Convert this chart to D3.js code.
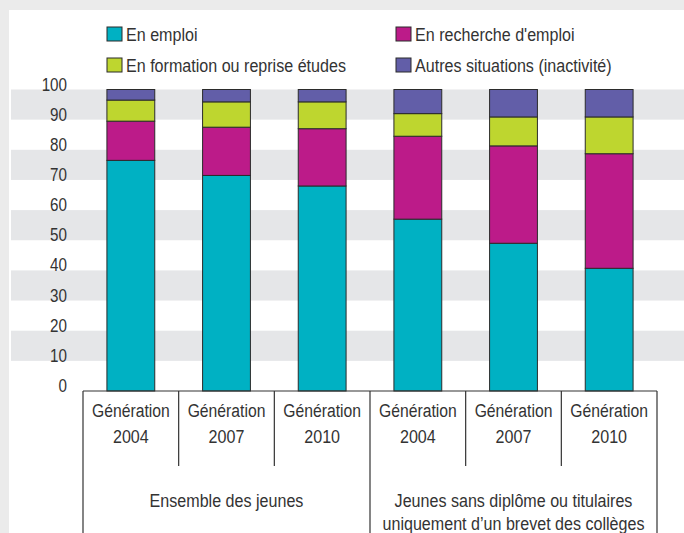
<!DOCTYPE html>
<html>
<head>
<meta charset="utf-8">
<script src="https://cdn.jsdelivr.net/npm/d3@7"></script>
<style>
  body { margin: 0; background: #ebebeb; }
  svg { display: block; font-family: "Liberation Sans", Arial, sans-serif; }
</style>
</head>
<body>
<script>
// données
const generations = ["2004", "2007", "2010", "2004", "2007", "2010"];
const groups = [
  ["Ensemble des jeunes"],
  ["Jeunes sans diplôme ou titulaires", "uniquement d’un brevet des collèges"]
];
const seriesNames = ["En emploi", "En recherche d'emploi", "En formation ou reprise études", "Autres situations (inactivité)"];
const emploi = [76.5, 71.5, 68, 57, 49, 40.7];
const recherche = [13, 16, 19, 27.5, 32.3, 38];
const formation = [7, 8.4, 8.9, 7.5, 9.6, 12.2];
const autres = [3.5, 4.1, 4.1, 8, 9.1, 9.1];
const yTicks = [0, 10, 20, 30, 40, 50, 60, 70, 80, 90, 100];

const colors = ["#00b1c3", "#bc1b89", "#bed62f", "#625ea8"];

const width = 684, height = 533;

const svg = d3.select("body").append("svg")
  .attr("width", width)
  .attr("height", height);

// texte condensé (police étroite simulée)
const addText = (sel, tx, ty, str, size, anchor, sx = 0.87) =>
  sel.append("text")
    .attr("transform", `translate(${tx},${ty}) scale(${sx},1)`)
    .attr("text-anchor", anchor)
    .attr("font-size", size)
    .attr("fill", "#333")
    .text(str);

// panneau blanc
svg.append("rect")
  .attr("x", 9).attr("y", 10)
  .attr("width", width - 9).attr("height", height - 10)
  .attr("fill", "#fff");

const rows = generations.map((g, i) => ({
  id: i, gen: g,
  e: emploi[i], r: recherche[i], f: formation[i], a: autres[i]
}));

const x = d3.scaleBand()
  .domain(rows.map(d => d.id))
  .range([83, 657])
  .paddingInner(0.5)
  .paddingOuter(0.25);

const y = d3.scaleLinear().domain([0, 100]).range([391, 89.5]);

// bandes grises
const bands = [90, 70, 50, 30, 10];
svg.append("g").selectAll("rect")
  .data(bands)
  .enter().append("rect")
  .attr("x", 11)
  .attr("y", d => y(d + 10))
  .attr("width", width - 11)
  .attr("height", d => y(d) - y(d + 10))
  .attr("fill", "#e5e6e8");

// axe y (étiquettes seulement)
const yAxis = svg.append("g");
yTicks.forEach(t => addText(yAxis, 67, y(t) + 1, t, 19, "end", 0.8));

// barres empilées
const stack = d3.stack().keys(["e", "r", "f", "a"]);
const series = stack(rows);

svg.append("g").selectAll("g")
  .data(series)
  .enter().append("g")
  .attr("fill", (d, i) => colors[i])
  .selectAll("rect")
  .data(d => d)
  .enter().append("rect")
  .attr("x", d => x(d.data.id))
  .attr("y", d => y(d[1]))
  .attr("width", x.bandwidth())
  .attr("height", d => y(d[0]) - y(d[1]))
  .attr("stroke", "#2b2b2b")
  .attr("stroke-width", 1);

// cadre des catégories
const step = x.step();
const x0 = 83;
const frame = svg.append("g").attr("stroke", "#333").attr("stroke-width", 1.2);
frame.append("line")
  .attr("x1", x0).attr("x2", 657)
  .attr("y1", y(0)).attr("y2", y(0));
d3.range(7).forEach(i => {
  const xx = x0 + i * step;
  frame.append("line")
    .attr("x1", xx).attr("x2", xx)
    .attr("y1", y(0))
    .attr("y2", i % 3 === 0 ? height : 466);
});

const labels = svg.append("g");

rows.forEach(d => {
  const cx = x(d.id) + x.bandwidth() / 2;
  addText(labels, cx, 417, "Génération", 18.5, "middle", 0.85);
  addText(labels, cx, 443, d.gen, 18.5, "middle");
});

groups.forEach((lines, gi) => {
  const cx = x0 + (gi * 3 + 1.5) * step;
  lines.forEach((t, li) => addText(labels, cx, 506.5 + li * 23.5, t, 18.5, "middle"));
});

// légende
const legendPos = [[107, 34], [396, 34], [107, 65], [396, 65]];
const legend = svg.append("g");
seriesNames.forEach((name, i) => {
  const [lx, ly] = legendPos[i];
  legend.append("rect")
    .attr("x", lx).attr("y", ly - 7)
    .attr("width", 15).attr("height", 14)
    .attr("fill", colors[i])
    .attr("stroke", "#2b2b2b")
    .attr("stroke-width", 1);
  addText(legend, lx + 19, ly + 6.5, name, 18.5, "start");
});
</script>
</body>
</html>
